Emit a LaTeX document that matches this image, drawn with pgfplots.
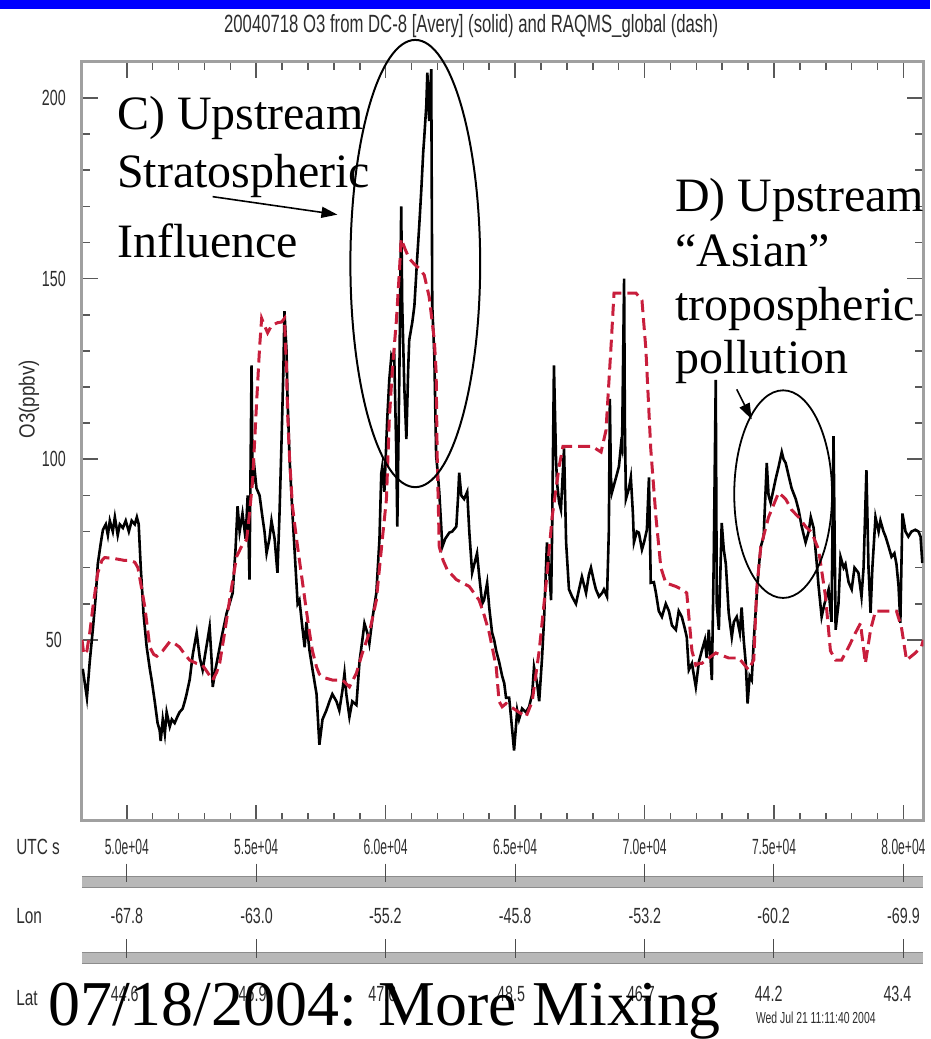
\documentclass[border=0pt]{standalone}
\usepackage{pgfplots}
\pgfplotsset{compat=1.18}
\usepackage{fontspec}
\setmainfont{Liberation Serif}
\newfontfamily\idl{Liberation Sans}
\usetikzlibrary{arrows.meta}

\definecolor{raqms}{RGB}{200,30,60}
\definecolor{frame}{RGB}{160,160,160}
\definecolor{lbl}{RGB}{45,45,45}

% condensed label text like the IDL plot
\newcommand\ilab[2][0.6]{{\idl\fontsize{11}{13}\selectfont\color{lbl}\scalebox{#1}[1]{#2}}}

\begin{document}
\begin{tikzpicture}
\begin{scope}[x=0.5pt,y=-0.5pt]
\path[use as bounding box] (0,0) rectangle (932,1039);
\clip (0,0) rectangle (932,1039);
\fill[blue] (0,0) rectangle (932,9);
\end{scope}

\begin{axis}[
  at={(41pt,-31pt)}, anchor=north west,
  scale only axis, width=421.5pt, height=380pt,
  xmin=48265, xmax=80771, ymin=0, ymax=210,
  scaled x ticks=false,
  xtick={50000,55000,60000,65000,70000,75000,80000},
  xticklabels={5.0e+04,5.5e+04,6.0e+04,6.5e+04,7.0e+04,7.5e+04,8.0e+04},
  minor x tick num=4,
  ytick={50,100,150,200},
  yticklabels={50,100,150,200},
  minor y tick num=4,
  tick align=inside,
  major tick length=8pt,
  minor tick length=4pt,
  axis line style={frame, line width=1.5pt},
  every tick/.style={black!65, line width=0.8pt},
  xticklabel style={font=\idl\fontsize{11}{13}\selectfont, text=lbl, anchor=center, yshift=-13pt, xscale=0.55},
  yticklabel style={font=\idl\fontsize{11}{13}\selectfont, text=lbl, anchor=center, xshift=-14pt, xscale=0.65},
]
% DC-8 measured O3 (solid)
\addplot[black, line width=1.3pt] coordinates {
(48300,42) (48380,38) (48460,34) (48570,44) (48690,53) (48800,62) (48880,71) (49000,77) (49080,80.5) (49190,82) (49270,79) (49345,83) (49460,80) (49540,84) (49650,79) (49730,82) (49850,81) (49960,83) (50080,80) (50190,83) (50310,82) (50390,84) (50460,82) (50540,70) (50650,57) (50770,48) (50890,42) (50960,39) (51080,33) (51190,27) (51270,25) (51310,22) (51390,28) (51470,24) (51540,30) (51660,26) (51740,28) (51850,27) (51970,29) (52040,30) (52160,31) (52240,33) (52310,35) (52430,39) (52550,46) (52700,52) (52820,45) (52930,41.7) (53050,47) (53120,50) (53200,53.6) (53280,44) (53320,37) (53430,42) (53590,48) (53700,52) (53860,57.5) (53970,60) (54090,63) (54200,75) (54280,87) (54360,80) (54470,85) (54590,78) (54670,90) (54740,66.7) (54820,126) (54860,93) (54940,97) (55010,92) (55130,90) (55240,84) (55320,80) (55400,74) (55510,78) (55590,83) (55710,78) (55780,72) (55820,68.6) (55900,85) (55980,105.6) (56050,125) (56090,141) (56170,130) (56210,116.7) (56290,100) (56400,85) (56520,70) (56600,60) (56670,61) (56790,53) (56870,48) (56940,55) (57060,47) (57170,42) (57330,35) (57440,21) (57560,28) (57710,30.5) (57830,33) (57940,35) (58100,33) (58210,30.5) (58330,36) (58410,40.8) (58480,35) (58600,28.7) (58710,33) (58870,32) (58990,44) (59100,50) (59180,54.6) (59290,52) (59370,49) (59490,56) (59640,63) (59760,77.8) (59830,96) (59870,98) (59950,91) (60030,105.6) (60060,111) (60140,122) (60220,128.6) (60260,127.8) (60330,129) (60410,102) (60450,81.4) (60530,124) (60600,170) (60640,142.5) (60720,120) (60800,105.6) (60870,125) (60910,133) (61030,138) (61110,142.5) (61220,156) (61300,165) (61380,175) (61450,185) (61490,189) (61570,198) (61610,207) (61680,193.6) (61760,208) (61800,142.5) (61880,128.6) (61950,101) (61990,98) (62070,91) (62190,75.8) (62300,78) (62460,79.7) (62570,80) (62730,81.4) (62800,90) (62840,96.3) (62920,90) (63030,89) (63150,91) (63230,80) (63340,68.6) (63460,72) (63530,74) (63610,68) (63730,60) (63800,61) (63920,65.8) (64000,59) (64110,52) (64190,50) (64270,47) (64380,44) (64500,40) (64580,38) (64650,34) (64770,34) (64850,28) (64960,19.4) (65080,30.5) (65150,28) (65270,31) (65420,30) (65540,31.5) (65660,35) (65730,42.5) (65850,38) (65930,33) (66040,45) (66120,56) (66230,77) (66310,70) (66390,61) (66430,80) (66500,126) (66580,100) (66620,93.5) (66700,88) (66770,86) (66890,103) (66970,77) (67080,64) (67200,62) (67350,60) (67470,64) (67580,67.5) (67740,63) (67850,68) (67930,70) (68050,66) (68120,64) (68240,62) (68360,63) (68430,64) (68550,62) (68620,80) (68660,116.7) (68700,95) (68740,90.8) (68900,95) (69010,98) (69090,104) (69130,102.8) (69210,150) (69240,110) (69280,89) (69400,92) (69470,95) (69550,85) (69590,77) (69700,80) (69780,79.7) (69900,75) (69980,77) (70090,80.5) (70170,95) (70240,65.8) (70360,66) (70440,63) (70550,58) (70670,56.4) (70820,60) (70940,58) (71060,54) (71210,52.8) (71320,58) (71440,56.4) (71560,53) (71630,50.8) (71710,41.7) (71830,43.5) (71980,37) (72100,44) (72210,47) (72330,50) (72400,45) (72480,52.8) (72600,38.9) (72670,71) (72750,122) (72790,60) (72870,52.8) (72980,82.4) (73060,75) (73140,71) (73250,57.5) (73370,50.8) (73450,55) (73560,56.4) (73680,52) (73750,59) (73830,50) (73910,43.5) (73980,32.4) (74060,40) (74140,38.9) (74220,50) (74330,62) (74410,70) (74490,75.8) (74600,78.6) (74720,99) (74790,90) (74870,88) (74990,92) (75060,94.4) (75180,98) (75300,102) (75370,100) (75450,99) (75570,95.3) (75680,92) (75840,89) (75950,86) (76070,81.4) (76150,79) (76220,77) (76340,80) (76420,84) (76530,81) (76650,71.3) (76720,65) (76840,56.4) (76950,60) (77110,64) (77220,55) (77300,106.4) (77380,52.8) (77490,60) (77570,73) (77690,70) (77760,71) (77880,66) (78000,64) (78110,70) (78260,68.6) (78380,62) (78460,70) (78570,97) (78650,70) (78730,57.5) (78800,70) (78920,84) (79040,80) (79110,83) (79230,80) (79310,78.6) (79420,76) (79540,73) (79650,74) (79730,71) (79810,65) (79880,54.7) (79960,85) (80080,80) (80190,78.6) (80310,80) (80460,80.5) (80580,80) (80660,78.6) (80730,71.3)
};
% RAQMS_global (dash)
\addplot[raqms, line width=1.5pt, dash pattern=on 6pt off 3pt] coordinates {
(48270,50) (48340,46) (48460,47) (48570,52) (48690,59) (48880,68.6) (49040,72) (49150,72.8) (49540,72.5) (49920,72) (50120,72) (50310,71.5) (50430,70) (50580,64) (50700,59) (50890,48) (51040,46) (51160,45.5) (51390,47) (51660,49.5) (51850,49) (52040,48) (52240,46) (52430,44.4) (52700,43.5) (52930,43) (53120,41) (53320,38.9) (53470,41) (53590,43.6) (53780,52) (53970,61) (54240,73) (54440,76) (54630,77.8) (54740,85) (54860,94) (55010,115) (55130,131) (55210,139) (55320,137) (55440,135) (55590,137) (55820,137.8) (55980,138) (56090,139) (56170,125) (56210,113) (56290,100) (56400,87) (56560,77.8) (56670,72) (56790,65.8) (56940,58) (57060,52) (57170,47) (57330,42.5) (57440,40.5) (57560,39.7) (57940,38.9) (58330,38.9) (58600,37) (58870,40.8) (59100,46.4) (59370,52) (59640,61) (59870,77.8) (60030,89) (60140,111) (60260,125) (60410,138) (60530,152) (60600,161) (60760,158) (60910,155.6) (61110,154) (61300,152.8) (61490,151) (61680,145) (61880,133) (61950,124) (61990,101) (62070,75.8) (62220,72) (62380,69.4) (62730,66.7) (63230,64.8) (63610,61) (63800,57) (64000,52) (64270,42.5) (64380,33) (64500,31.5) (64650,32.4) (65040,30.5) (65420,28.7) (65660,33) (65930,47) (66200,65.8) (66430,84) (66700,98) (66850,103.6) (67470,103.6) (67970,103.6) (68320,102) (68510,108) (68700,130.6) (68820,146) (69130,146) (69670,146) (69900,144) (70050,130.6) (70240,102.8) (70440,84) (70630,70) (70820,65.8) (71210,64.8) (71440,64) (71630,63) (71830,47) (71980,43) (72100,43.5) (72210,43.5) (72750,46.4) (73250,45) (73640,45) (74020,41.7) (74220,44.5) (74330,64) (74490,75.8) (74790,84) (75180,90.8) (75450,89) (75680,86) (75950,84) (76220,81.4) (76460,79.7) (76720,75) (76990,62) (77180,47) (77380,44.4) (77610,44.4) (77880,48) (78150,52) (78340,54.6) (78530,43.5) (78730,52.8) (78920,58) (79420,58) (79730,58) (79920,53.6) (80120,44.4) (80460,46.4) (80690,48) (80770,50)
};
\end{axis}

\begin{scope}[x=0.5pt,y=-0.5pt]
% title and axis names
\node at (472,26) {{\idl\fontsize{12.5}{14}\selectfont\color{lbl}\scalebox{0.67}[1]{20040718 O3 from DC-8 [Avery] (solid) and RAQMS\_global (dash)}}};
\node[rotate=90] at (29,400) {{\idl\fontsize{11}{13}\selectfont\color{lbl}\scalebox{0.85}[1]{O3(ppbv)}}};
\node[anchor=west, inner sep=0] at (16,848) {\ilab[0.7]{UTC s}};
\node[anchor=west, inner sep=0] at (16,918) {\ilab[0.7]{Lon}};
\node[anchor=west, inner sep=0] at (16,1000) {\ilab[0.7]{Lat}};

% Lon / Lat bars
\foreach \yb in {878,954} {
  \fill[black!28] (82,\yb) rectangle (925,\yb+11);
  \draw[black!45, line width=0.4pt] (82,\yb) -- (925,\yb) (82,\yb+11) -- (925,\yb+11);
  \foreach \xt in {127,257,386,516,646,775,905}
    \draw[black!70, line width=0.6pt] (\xt,\yb-13) -- (\xt,\yb+6);
}
\foreach \xt/\t in {127/-67.8,257/-63.0,386/-55.2,516/-45.8,646/-53.2,775/-60.2,905/-69.9}
  \node at (\xt,918) {\ilab[0.65]{\t}};
\foreach \xt/\t in {125/44.6,253/46.9,383/47.6,512/48.5,642/46.7,770/44.2,899/43.4}
  \node at (\xt,996) {\ilab[0.65]{\t}};
\node[anchor=west, inner sep=0] at (757,1020) {{\idl\fontsize{8}{9}\selectfont\color{lbl}\scalebox{0.65}[1]{Wed Jul 21 11:11:40 2004}}};

% annotations
\draw[line width=1pt] (416,264) ellipse [x radius=32.5pt, y radius=112pt];
\draw[line width=0.9pt] (784.5,495) ellipse [x radius=24.5pt, y radius=52pt];
\draw[line width=0.8pt, -{Triangle[length=8pt,width=5.5pt]}] (213,197) -- (338,215);
\draw[line width=0.8pt, -{Triangle[length=8pt,width=5.5pt]}] (738,390) -- (753,420);

\begin{scope}[every node/.style={anchor=base west, inner sep=0, font=\fontsize{24}{28}\selectfont}]
\node at (117,130) {C) Upstream};
\node at (117,188) {Stratospheric};
\node at (117,258) {Influence};
\node at (676,212) {D) Upstream};
\node at (676,267) {“Asian”};
\node at (676,321) {tropospheric};
\node at (676,374) {pollution};
\end{scope}
\node[anchor=base west, inner sep=0] at (48,1027) {\fontsize{32}{36}\selectfont 07/18/2004: More Mixing};
\end{scope}
\end{tikzpicture}
\end{document}
